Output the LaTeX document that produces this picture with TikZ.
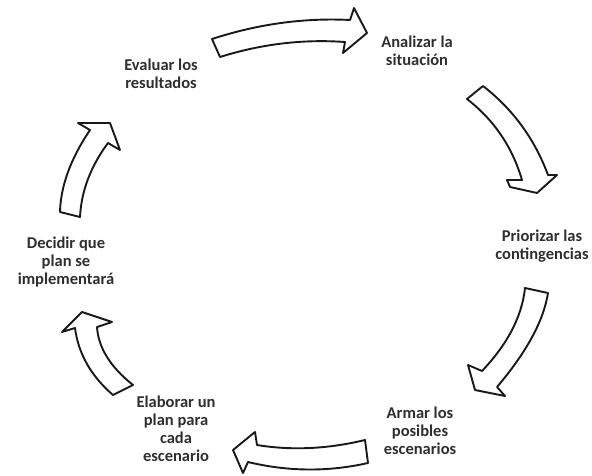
\documentclass[tikz,border=0pt]{standalone}
\usepackage{fontspec}
\setmainfont{Carlito}
\begin{document}
\begin{tikzpicture}[x=1pt,y=-1pt,
  blockarrow/.style={draw=black!90,line width=1.9pt,fill=white,line join=round},
  lbl/.style={font=\bfseries\fontsize{16.5}{18}\selectfont,text=black!82,align=center,inner sep=0pt}]
\useasboundingbox (0,0) rectangle (592,476);
% labels
\node[lbl] (evaluar) at (161,74) {Evaluar los\\resultados};
\node[lbl] (analizar) at (417,51) {Analizar la\\situación};
\node[lbl] (priorizar) at (542,246) {Priorizar las\\contingencias};
\node[lbl] (armar) at (420,431) {Armar los\\posibles\\escenarios};
\node[lbl] (elaborar) at (176,429) {Elaborar un\\plan para\\cada\\escenario};
\node[lbl] (decidir) at (66,262) {Decidir que\\plan se\\implementará};
% block arrows
\draw[blockarrow] (212,39) .. controls (258,24) and (304,17.67) .. (350,20) -- (354,8) -- (367,33) -- (343,53) -- (345,42) .. controls (303,39) and (261.33,44) .. (220,57) -- cycle;
\draw[blockarrow] (483,86) .. controls (513,109.33) and (534.67,139) .. (548,175) -- (557,175) -- (537,193) -- (510,187) -- (507,180) -- (522,180) .. controls (512.33,147) and (494,120) .. (467,99) -- cycle;
\draw[blockarrow] (525,288) -- (548,293) .. controls (543.67,320.67) and (526.67,352) .. (497,387) -- (505,396) -- (475,390) -- (468,365) -- (482,371) .. controls (507.67,344) and (522,316.33) .. (525,288) -- cycle;
\draw[blockarrow] (365,440) .. controls (327.67,449) and (291.67,450.67) .. (257,445) -- (255,432) -- (233,450) -- (243,473) -- (248,462) .. controls (288,471.67) and (328,472) .. (368,463) -- cycle;
\draw[blockarrow] (133,385) .. controls (110.33,367) and (98.33,347.67) .. (97,327) -- (112,322) -- (82,312) -- (62,332) -- (75,328) .. controls (78.33,353.67) and (91,376) .. (113,395) -- cycle;
\draw[blockarrow] (80,217) .. controls (81.33,191) and (90.67,166.33) .. (108,143) -- (120,150) -- (110,123) -- (78,123) -- (90,130) .. controls (70.67,158.67) and (60.67,186) .. (60,212) -- cycle;
\end{tikzpicture}
\end{document}
